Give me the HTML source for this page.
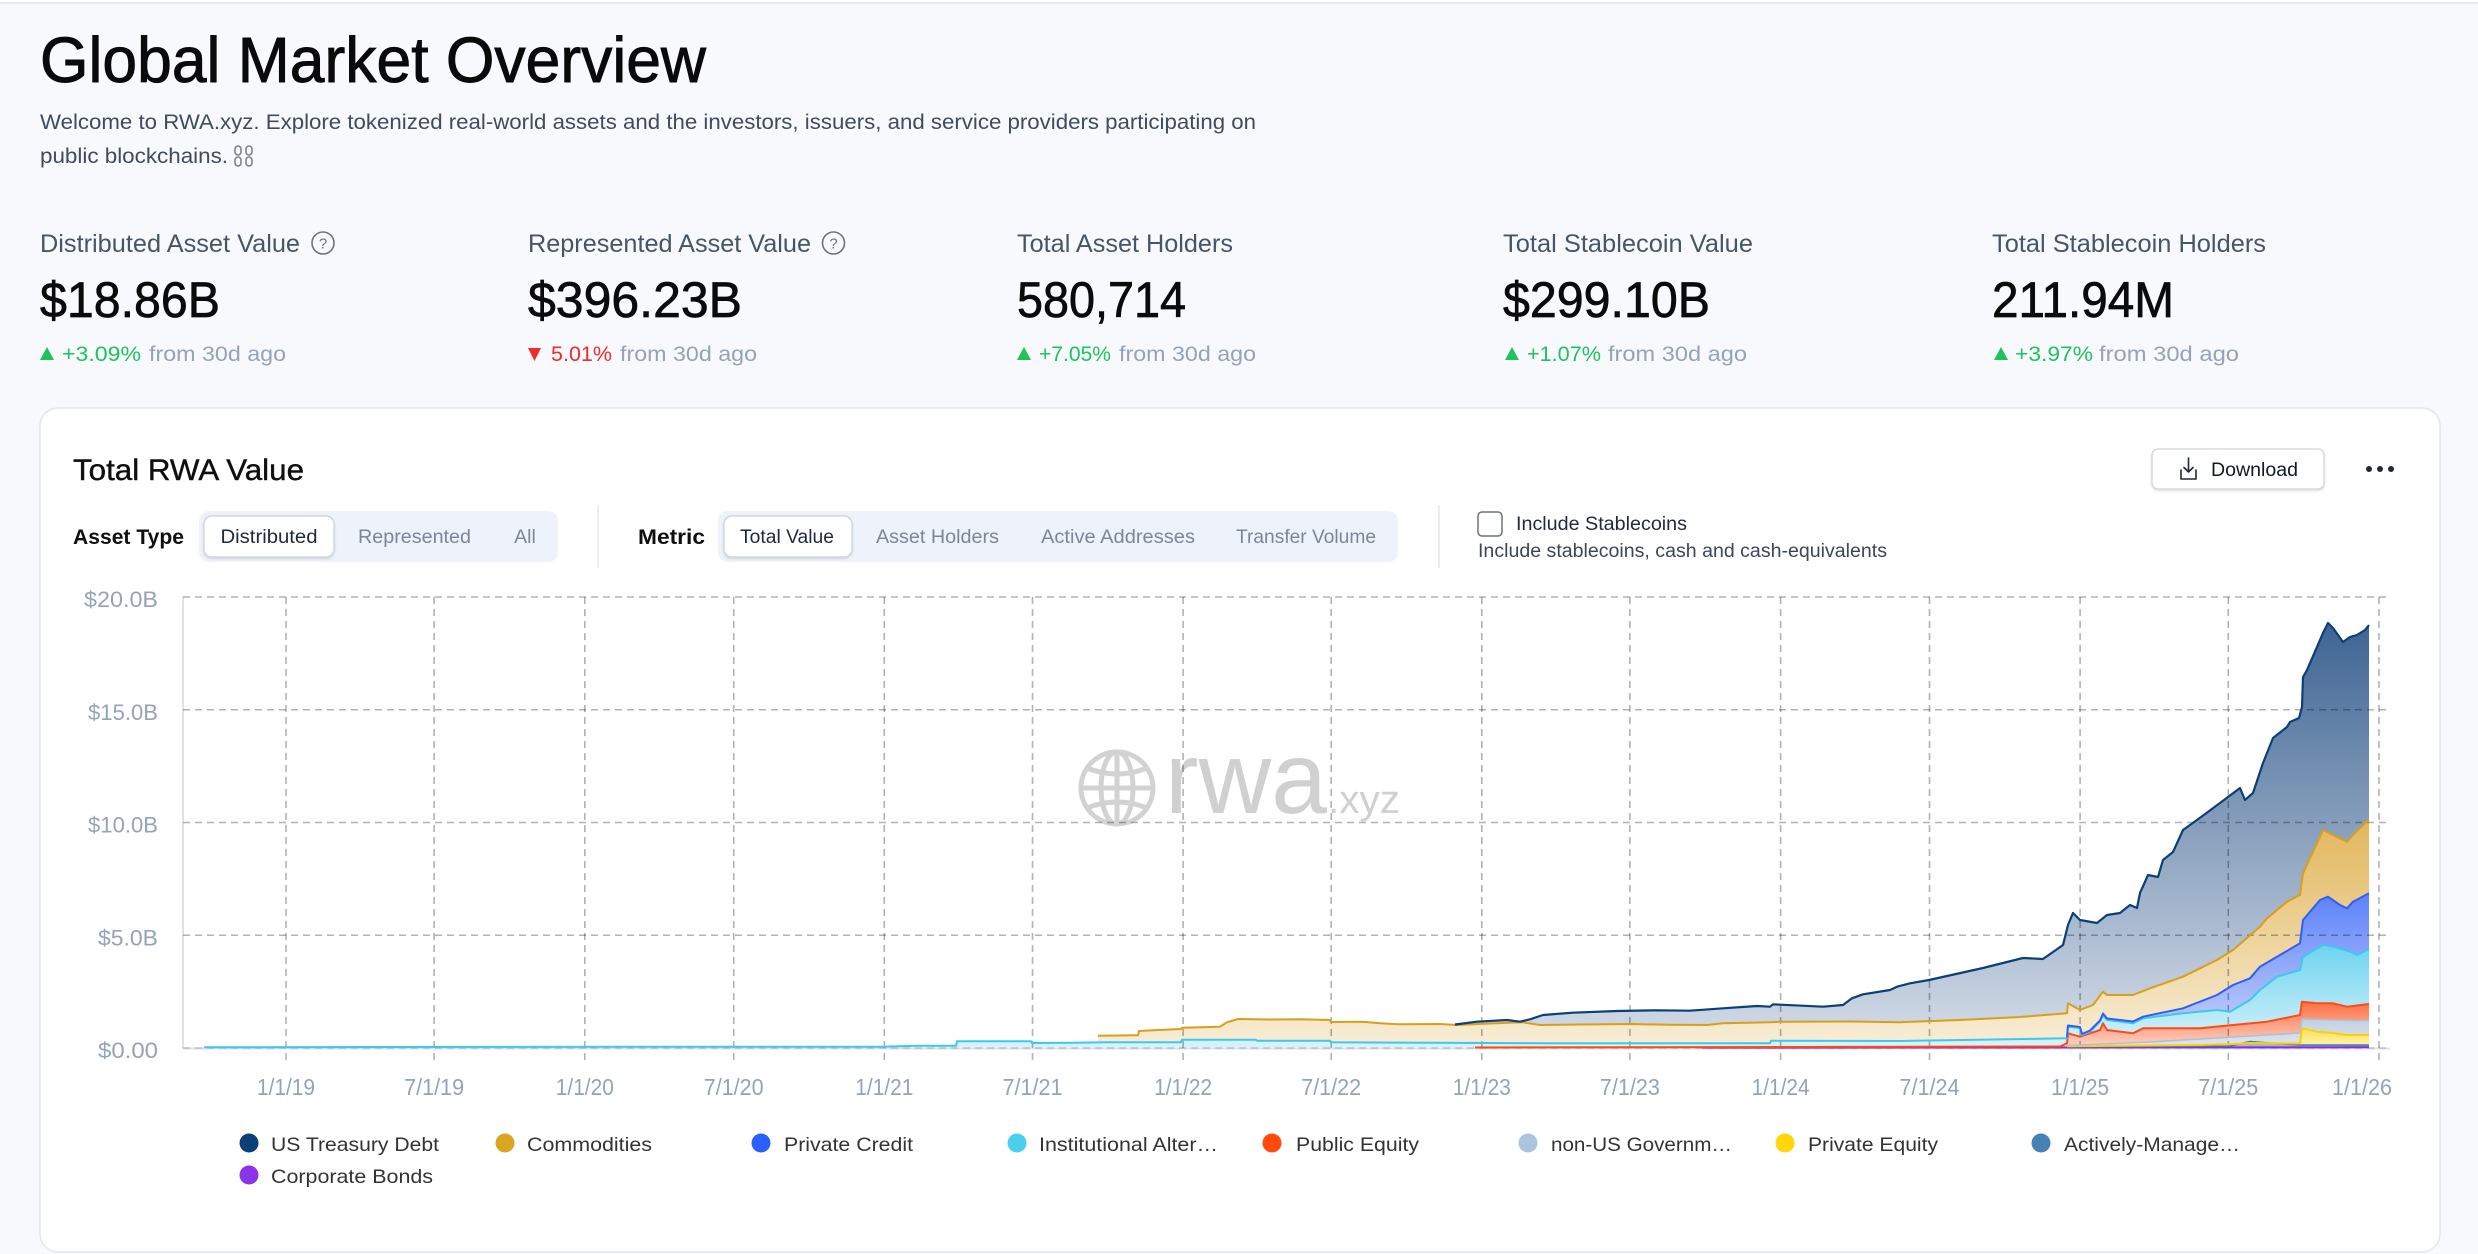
<!DOCTYPE html>
<html>
<head>
<meta charset="utf-8">
<style>
html,body{margin:0;padding:0;}
body{width:2478px;height:1254px;overflow:hidden;background:#f8f9fc;font-family:"Liberation Sans",Arial,sans-serif;}
svg{display:block;}
text{font-family:"Liberation Sans",Arial,sans-serif;}
</style>
</head>
<body>
<svg width="2478" height="1254" viewBox="0 0 2478 1254" xmlns="http://www.w3.org/2000/svg">
<defs>
<linearGradient id="gU" gradientUnits="userSpaceOnUse" x1="0" y1="620" x2="0" y2="1048"><stop offset="0" stop-color="#3d6392"/><stop offset="1" stop-color="#d6dee9"/></linearGradient>
<linearGradient id="gG" gradientUnits="userSpaceOnUse" x1="0" y1="815" x2="0" y2="1048"><stop offset="0" stop-color="#e2b559"/><stop offset="1" stop-color="#f8eed8"/></linearGradient>
<linearGradient id="gB" gradientUnits="userSpaceOnUse" x1="0" y1="890" x2="0" y2="1048"><stop offset="0" stop-color="#5a80fa"/><stop offset="1" stop-color="#cdd7fb"/></linearGradient>
<linearGradient id="gC" gradientUnits="userSpaceOnUse" x1="0" y1="945" x2="0" y2="1048"><stop offset="0" stop-color="#6dd4ef"/><stop offset="1" stop-color="#dbf3fa"/></linearGradient>
<linearGradient id="gR" gradientUnits="userSpaceOnUse" x1="0" y1="1000" x2="0" y2="1048"><stop offset="0" stop-color="#ff6b3f"/><stop offset="1" stop-color="#fdd5c8"/></linearGradient>
<linearGradient id="gN" gradientUnits="userSpaceOnUse" x1="0" y1="1018" x2="0" y2="1048"><stop offset="0" stop-color="#c3cfdf"/><stop offset="1" stop-color="#e0e6ef"/></linearGradient>
<linearGradient id="gY" gradientUnits="userSpaceOnUse" x1="0" y1="1026" x2="0" y2="1048"><stop offset="0" stop-color="#ffe04a"/><stop offset="1" stop-color="#fff3b8"/></linearGradient>
<filter id="sh" x="-10%" y="-20%" width="120%" height="150%"><feDropShadow dx="0" dy="1.5" stdDeviation="1.2" flood-color="#000" flood-opacity="0.12"/></filter>
</defs>

<!-- top strip -->
<rect x="0" y="0" width="2478" height="3" fill="#ffffff"/>
<line x1="0" y1="3" x2="2478" y2="3" stroke="#e4e7ec" stroke-width="1.5"/>

<!-- Header -->
<text x="40" y="82" font-size="64" fill="#0a0a0a" stroke="#0a0a0a" stroke-width="0.9" textLength="666" lengthAdjust="spacingAndGlyphs">Global Market Overview</text>
<text x="40" y="129" font-size="21" fill="#3f4b5f" textLength="1216" lengthAdjust="spacingAndGlyphs">Welcome to RWA.xyz. Explore tokenized real-world assets and the investors, issuers, and service providers participating on</text>
<text x="40" y="163" font-size="21" fill="#3f4b5f" textLength="188" lengthAdjust="spacingAndGlyphs">public blockchains.</text>
<g stroke="#7a8394" stroke-width="1.6" fill="none">
<rect x="235" y="146" width="6" height="9" rx="3"/><rect x="235" y="157" width="6" height="9" rx="3"/>
<rect x="246" y="146" width="6" height="9" rx="3"/><rect x="246" y="157" width="6" height="9" rx="3"/>
</g>

<!-- Stats -->
<g font-size="25" fill="#475569">
<text x="40" y="252" textLength="260" lengthAdjust="spacingAndGlyphs">Distributed Asset Value</text>
<text x="528" y="252" textLength="283" lengthAdjust="spacingAndGlyphs">Represented Asset Value</text>
<text x="1017" y="252" textLength="216" lengthAdjust="spacingAndGlyphs">Total Asset Holders</text>
<text x="1503" y="252" textLength="250" lengthAdjust="spacingAndGlyphs">Total Stablecoin Value</text>
<text x="1992" y="252" textLength="274" lengthAdjust="spacingAndGlyphs">Total Stablecoin Holders</text>
</g>
<g stroke="#6b7280" stroke-width="1.6" fill="none">
<circle cx="323" cy="243" r="11"/><circle cx="833.5" cy="243" r="11"/>
</g>
<g font-size="15" fill="#6b7280" text-anchor="middle">
<text x="323" y="248.5">?</text><text x="833.5" y="248.5">?</text>
</g>
<g font-size="50" fill="#0b0b0b" stroke="#0b0b0b" stroke-width="0.7">
<text x="40" y="317" textLength="180" lengthAdjust="spacingAndGlyphs">$18.86B</text>
<text x="528" y="317" textLength="214" lengthAdjust="spacingAndGlyphs">$396.23B</text>
<text x="1017" y="317" textLength="169" lengthAdjust="spacingAndGlyphs">580,714</text>
<text x="1503" y="317" textLength="207" lengthAdjust="spacingAndGlyphs">$299.10B</text>
<text x="1992" y="317" textLength="182" lengthAdjust="spacingAndGlyphs">211.94M</text>
</g>
<g font-size="21">
<polygon points="40,360 47,347 54,360" fill="#1fc25b"/>
<text x="62" y="361" fill="#1fc25b" textLength="79" lengthAdjust="spacingAndGlyphs">+3.09%</text>
<text x="149" y="361" fill="#94a3b8" textLength="137" lengthAdjust="spacingAndGlyphs">from 30d ago</text>
<polygon points="528,348 541,348 534.5,361" fill="#ef2b2b"/>
<text x="551" y="361" fill="#ef2b2b" textLength="61" lengthAdjust="spacingAndGlyphs">5.01%</text>
<text x="620" y="361" fill="#94a3b8" textLength="137" lengthAdjust="spacingAndGlyphs">from 30d ago</text>
<polygon points="1017,360 1024,347 1031,360" fill="#1fc25b"/>
<text x="1039" y="361" fill="#1fc25b" textLength="72" lengthAdjust="spacingAndGlyphs">+7.05%</text>
<text x="1119" y="361" fill="#94a3b8" textLength="137" lengthAdjust="spacingAndGlyphs">from 30d ago</text>
<polygon points="1505,360 1512,347 1519,360" fill="#1fc25b"/>
<text x="1527" y="361" fill="#1fc25b" textLength="74" lengthAdjust="spacingAndGlyphs">+1.07%</text>
<text x="1608" y="361" fill="#94a3b8" textLength="139" lengthAdjust="spacingAndGlyphs">from 30d ago</text>
<polygon points="1994,360 2001,347 2008,360" fill="#1fc25b"/>
<text x="2015" y="361" fill="#1fc25b" textLength="78" lengthAdjust="spacingAndGlyphs">+3.97%</text>
<text x="2099" y="361" fill="#94a3b8" textLength="140" lengthAdjust="spacingAndGlyphs">from 30d ago</text>
</g>

<!-- Card -->
<rect x="40" y="408" width="2400" height="844" rx="18" fill="#ffffff" stroke="#e3e6ec" stroke-width="1.5"/>
<text x="73" y="480" font-size="30" fill="#0f0f0f" stroke="#0f0f0f" stroke-width="0.4" textLength="231" lengthAdjust="spacingAndGlyphs">Total RWA Value</text>

<!-- Download -->
<rect x="2152" y="449" width="172" height="40" rx="6" fill="#fff" stroke="#cfd4dc" stroke-width="1.3" filter="url(#sh)"/>
<g stroke="#1f2937" stroke-width="1.6" fill="none" stroke-linecap="round" stroke-linejoin="round">
<path d="M2188.5 458 V472 M2184 467.5 L2188.5 472 L2193 467.5"/>
<path d="M2181 470 V479 H2196 V470"/>
</g>
<text x="2211" y="476" font-size="19" fill="#111827" textLength="87" lengthAdjust="spacingAndGlyphs">Download</text>
<g fill="#1f2937"><circle cx="2369" cy="469" r="3"/><circle cx="2380" cy="469" r="3"/><circle cx="2391" cy="469" r="3"/></g>

<!-- Controls -->
<text x="73" y="544" font-size="21" font-weight="bold" fill="#0f0f0f" textLength="111" lengthAdjust="spacingAndGlyphs">Asset Type</text>
<rect x="199" y="511" width="359" height="51" rx="10" fill="#eef2fa"/>
<rect x="204" y="516" width="130" height="41" rx="8" fill="#fff" stroke="#c9d0dc" stroke-width="1.2" filter="url(#sh)"/>
<g font-size="19.5" text-anchor="middle">
<text x="269" y="543" fill="#1e293b" textLength="97" lengthAdjust="spacingAndGlyphs">Distributed</text>
<text x="414.5" y="543" fill="#7c8699" textLength="113" lengthAdjust="spacingAndGlyphs">Represented</text>
<text x="525" y="543" fill="#7c8699">All</text>
</g>
<line x1="598" y1="505" x2="598" y2="568" stroke="#e5e7eb" stroke-width="1.5"/>
<text x="638" y="544" font-size="21" font-weight="bold" fill="#0f0f0f" textLength="67" lengthAdjust="spacingAndGlyphs">Metric</text>
<rect x="718" y="511" width="680" height="51" rx="10" fill="#eef2fa"/>
<rect x="724" y="516" width="128" height="41" rx="8" fill="#fff" stroke="#c9d0dc" stroke-width="1.2" filter="url(#sh)"/>
<g font-size="19.5" text-anchor="middle">
<text x="787" y="543" fill="#1e293b" textLength="94" lengthAdjust="spacingAndGlyphs">Total Value</text>
<text x="937.5" y="543" fill="#7c8699" textLength="123" lengthAdjust="spacingAndGlyphs">Asset Holders</text>
<text x="1118" y="543" fill="#7c8699" textLength="154" lengthAdjust="spacingAndGlyphs">Active Addresses</text>
<text x="1306" y="543" fill="#7c8699" textLength="140" lengthAdjust="spacingAndGlyphs">Transfer Volume</text>
</g>
<line x1="1439" y1="505" x2="1439" y2="568" stroke="#e5e7eb" stroke-width="1.5"/>
<rect x="1478" y="512" width="24" height="24" rx="4" fill="#fff" stroke="#6b7280" stroke-width="1.5"/>
<text x="1516" y="530" font-size="19" fill="#1f2937" textLength="171" lengthAdjust="spacingAndGlyphs">Include Stablecoins</text>
<text x="1478" y="557" font-size="19" fill="#3b4658" textLength="409" lengthAdjust="spacingAndGlyphs">Include stablecoins, cash and cash-equivalents</text>

<!-- Watermark -->
<g stroke="#d2d2d2" stroke-width="5" fill="none">
<circle cx="1117" cy="788" r="36"/>
<ellipse cx="1117" cy="788" rx="16" ry="36"/>
<line x1="1117" y1="752" x2="1117" y2="824"/>
<line x1="1081" y1="788" x2="1153" y2="788"/>
<path d="M1087 768 Q1117 780 1147 768"/>
<path d="M1087 808 Q1117 796 1147 808"/>
</g>
<text x="1165" y="813" font-size="102" fill="#d0d0d0" textLength="162" lengthAdjust="spacingAndGlyphs">rwa</text>
<text x="1328" y="813" font-size="40" fill="#d0d0d0" textLength="72" lengthAdjust="spacingAndGlyphs">.xyz</text>

<!-- Axis base lines -->
<line x1="183" y1="597" x2="183" y2="1048" stroke="#dde2ec" stroke-width="2"/>
<line x1="183" y1="1048.5" x2="2390" y2="1048.5" stroke="#dde2ec" stroke-width="2"/>

<!-- Areas (top series first) -->
<polygon fill="url(#gU)" points="1455,1024.5 1477,1021.7 1507,1020 1520,1021.7 1530,1019.3 1543,1015 1573,1012.7 1617,1011 1657,1010.3 1690,1010.7 1723,1008.3 1757,1006 1770,1006.7 1773,1004.3 1823,1006.7 1843,1005 1852,998.3 1863,994.3 1890,990 1897,986.7 1910,983.3 1929,980 1983,968 2023,958 2043,959 2063,945 2068,925 2073,913 2080,920 2097,923 2107,915 2120,913 2130,905 2137,908 2140,893 2148,875 2158,877 2163,860 2173,852 2183,830 2197,820 2220,803 2240,788 2245,800 2253,793 2263,763 2273,738 2287,727 2290,722 2299,718 2302,707 2303,677 2307,670 2317,647 2323,633 2328,623 2333,628 2343,642 2350,637 2357,635 2365,630 2369,625 2369,1048 1455,1048"/>
<polygon fill="url(#gG)" points="1098,1035.7 1138,1035.3 1139,1031 1181,1029 1182,1027.7 1220,1026.7 1227,1022.3 1238,1019 1270,1019.5 1300,1019.3 1330,1020 1331,1022 1363,1021.7 1380,1023.3 1400,1024.3 1440,1024 1457,1025 1490,1023.5 1523,1022.3 1540,1025 1580,1024.5 1630,1024 1670,1024.8 1707,1025 1723,1023.3 1770,1022.3 1781,1021.7 1850,1021.5 1900,1022.2 1960,1020 2020,1017 2067,1013.3 2068,1003.3 2080,1010 2093,1005 2103,991.7 2107,995 2133,995 2150,988.3 2183,976.7 2217,960 2233,950 2260,926.7 2267,918.3 2287,901.7 2300,895 2303,873.3 2317,843.3 2323,830 2333,835 2347,841.7 2353,835 2369,819.3 2369,1048 1098,1048"/>
<polygon fill="url(#gB)" points="2067,1037.5 2068,1025.5 2080,1027 2082,1034 2090,1030.5 2100,1020.5 2103,1013.5 2107,1018.5 2133,1021.5 2143,1016.7 2183,1008.3 2217,995 2233,985 2250,978.3 2260,966.7 2280,955 2300,943.3 2303,920 2320,900 2328,896.7 2340,905 2347,908.3 2353,901.7 2369,893.3 2369,1048 2067,1048"/>
<polygon fill="url(#gC)" points="204,1047.3 400,1047 650,1046.8 884,1046.7 918,1045.7 956,1045.7 957,1041.3 1031,1041.3 1032,1043 1073,1042.7 1106,1042.3 1181,1042.3 1182,1039.7 1256,1039.7 1257,1040.7 1330,1040.7 1331,1042.3 1553,1043.3 1770,1043.3 1771,1040.7 1900,1041 2067,1038.3 2068,1026.7 2080,1028 2082,1035 2090,1031.7 2100,1021.7 2103,1015 2107,1020 2133,1023.3 2143,1018.3 2183,1013.3 2217,1010 2230,1011.7 2250,1000 2260,990 2277,976.7 2300,970 2303,956.7 2323,945 2333,946.7 2350,951.7 2357,955 2369,949.3 2369,1048 204,1048"/>
<polygon fill="url(#gR)" points="1475,1047.5 2060,1046.5 2067,1043.3 2068,1033.3 2080,1036.7 2100,1030 2103,1023.3 2107,1030 2133,1033.3 2143,1028.3 2200,1028.3 2233,1025 2267,1021.7 2300,1015 2302,1001.7 2317,1003.3 2333,1003.3 2347,1006.7 2369,1004 2369,1048 1475,1048"/>
<polygon fill="url(#gN)" points="2067,1045.5 2150,1042 2233,1037 2267,1035 2300,1033 2302,1019 2333,1020 2369,1020.7 2369,1048 2067,1048"/>
<polygon fill="url(#gY)" points="2067,1046.3 2200,1045 2233,1044 2250,1043 2300,1043.5 2302,1028.3 2317,1031.7 2333,1033 2347,1035 2369,1035 2369,1048 2067,1048"/>
<polygon fill="#9db8d3" points="2067,1046.8 2230,1046 2250,1041.5 2270,1043 2300,1045 2369,1045 2369,1048 2067,1048"/>

<!-- Gridlines -->
<g stroke="rgba(0,0,0,0.3)" stroke-width="1.6" stroke-dasharray="7 5" fill="none">
<line x1="183" y1="597" x2="2390" y2="597"/>
<line x1="183" y1="709.75" x2="2390" y2="709.75"/>
<line x1="183" y1="822.5" x2="2390" y2="822.5"/>
<line x1="183" y1="935.25" x2="2390" y2="935.25"/>
<line x1="183" y1="1048" x2="2390" y2="1048" stroke="rgba(0,0,0,0.18)"/>
<line x1="286" y1="597" x2="286" y2="1062"/>
<line x1="434.1" y1="597" x2="434.1" y2="1062"/>
<line x1="584.8" y1="597" x2="584.8" y2="1062"/>
<line x1="733.7" y1="597" x2="733.7" y2="1062"/>
<line x1="884.3" y1="597" x2="884.3" y2="1062"/>
<line x1="1032.5" y1="597" x2="1032.5" y2="1062"/>
<line x1="1183.1" y1="597" x2="1183.1" y2="1062"/>
<line x1="1331.2" y1="597" x2="1331.2" y2="1062"/>
<line x1="1481.8" y1="597" x2="1481.8" y2="1062"/>
<line x1="1629.9" y1="597" x2="1629.9" y2="1062"/>
<line x1="1780.6" y1="597" x2="1780.6" y2="1062"/>
<line x1="1929.5" y1="597" x2="1929.5" y2="1062"/>
<line x1="2080.1" y1="597" x2="2080.1" y2="1062"/>
<line x1="2228.3" y1="597" x2="2228.3" y2="1062"/>
<line x1="2379" y1="597" x2="2379" y2="1062"/>
</g>

<!-- Series lines (bottom first) -->
<g fill="none" stroke-linejoin="round">
<polyline stroke="#8a2be2" stroke-width="2" points="1702,1047.6 2369,1047.3"/>
<polyline stroke="#3f7ab0" stroke-width="1.6" points="2067,1046.8 2230,1046 2250,1041.5 2270,1043 2300,1045 2369,1045"/>
<polyline stroke="#ffd000" stroke-width="2" points="2067,1046.3 2200,1045 2233,1044 2250,1043 2300,1043.5 2302,1028.3 2317,1031.7 2333,1033 2347,1035 2369,1035"/>
<polyline stroke="#aec0d8" stroke-width="1.6" points="2067,1045.5 2150,1042 2233,1037 2267,1035 2300,1033 2302,1019 2333,1020 2369,1020.7"/>
<polyline stroke="#ff4a10" stroke-width="2" points="1475,1047.5 2060,1046.5 2067,1043.3 2068,1033.3 2080,1036.7 2100,1030 2103,1023.3 2107,1030 2133,1033.3 2143,1028.3 2200,1028.3 2233,1025 2267,1021.7 2300,1015 2302,1001.7 2317,1003.3 2333,1003.3 2347,1006.7 2369,1004"/>
<polyline stroke="#3ec8ec" stroke-width="2" points="204,1047.3 400,1047 650,1046.8 884,1046.7 918,1045.7 956,1045.7 957,1041.3 1031,1041.3 1032,1043 1073,1042.7 1106,1042.3 1181,1042.3 1182,1039.7 1256,1039.7 1257,1040.7 1330,1040.7 1331,1042.3 1553,1043.3 1770,1043.3 1771,1040.7 1900,1041 2067,1038.3 2068,1026.7 2080,1028 2082,1035 2090,1031.7 2100,1021.7 2103,1015 2107,1020 2133,1023.3 2143,1018.3 2183,1013.3 2217,1010 2230,1011.7 2250,1000 2260,990 2277,976.7 2300,970 2303,956.7 2323,945 2333,946.7 2350,951.7 2357,955 2369,949.3"/>
<polyline stroke="#2f5ff5" stroke-width="2" points="2067,1037.5 2068,1025.5 2080,1027 2082,1034 2090,1030.5 2100,1020.5 2103,1013.5 2107,1018.5 2133,1021.5 2143,1016.7 2183,1008.3 2217,995 2233,985 2250,978.3 2260,966.7 2280,955 2300,943.3 2303,920 2320,900 2328,896.7 2340,905 2347,908.3 2353,901.7 2369,893.3"/>
<polyline stroke="#d89f1c" stroke-width="2" points="1098,1035.7 1138,1035.3 1139,1031 1181,1029 1182,1027.7 1220,1026.7 1227,1022.3 1238,1019 1270,1019.5 1300,1019.3 1330,1020 1331,1022 1363,1021.7 1380,1023.3 1400,1024.3 1440,1024 1457,1025 1490,1023.5 1523,1022.3 1540,1025 1580,1024.5 1630,1024 1670,1024.8 1707,1025 1723,1023.3 1770,1022.3 1781,1021.7 1850,1021.5 1900,1022.2 1960,1020 2020,1017 2067,1013.3 2068,1003.3 2080,1010 2093,1005 2103,991.7 2107,995 2133,995 2150,988.3 2183,976.7 2217,960 2233,950 2260,926.7 2267,918.3 2287,901.7 2300,895 2303,873.3 2317,843.3 2323,830 2333,835 2347,841.7 2353,835 2369,819.3"/>
<polyline stroke="#0b3f78" stroke-width="2.2" points="1455,1024.5 1477,1021.7 1507,1020 1520,1021.7 1530,1019.3 1543,1015 1573,1012.7 1617,1011 1657,1010.3 1690,1010.7 1723,1008.3 1757,1006 1770,1006.7 1773,1004.3 1823,1006.7 1843,1005 1852,998.3 1863,994.3 1890,990 1897,986.7 1910,983.3 1929,980 1983,968 2023,958 2043,959 2063,945 2068,925 2073,913 2080,920 2097,923 2107,915 2120,913 2130,905 2137,908 2140,893 2148,875 2158,877 2163,860 2173,852 2183,830 2197,820 2220,803 2240,788 2245,800 2253,793 2263,763 2273,738 2287,727 2290,722 2299,718 2302,707 2303,677 2307,670 2317,647 2323,633 2328,623 2333,628 2343,642 2350,637 2357,635 2365,630 2369,625"/>
</g>

<!-- Y labels -->
<g font-size="22" fill="#94a3b8" text-anchor="end">
<text x="158" y="607" textLength="74" lengthAdjust="spacingAndGlyphs">$20.0B</text>
<text x="158" y="719.75" textLength="70" lengthAdjust="spacingAndGlyphs">$15.0B</text>
<text x="158" y="832.5" textLength="70" lengthAdjust="spacingAndGlyphs">$10.0B</text>
<text x="158" y="945.25" textLength="60" lengthAdjust="spacingAndGlyphs">$5.0B</text>
<text x="158" y="1058" textLength="60" lengthAdjust="spacingAndGlyphs">$0.00</text>
</g>

<!-- X labels -->
<g font-size="23" fill="#94a3b8" text-anchor="middle">
<text x="286" y="1095" textLength="58" lengthAdjust="spacingAndGlyphs">1/1/19</text>
<text x="434.1" y="1095" textLength="60" lengthAdjust="spacingAndGlyphs">7/1/19</text>
<text x="584.8" y="1095" textLength="58" lengthAdjust="spacingAndGlyphs">1/1/20</text>
<text x="733.7" y="1095" textLength="60" lengthAdjust="spacingAndGlyphs">7/1/20</text>
<text x="884.3" y="1095" textLength="58" lengthAdjust="spacingAndGlyphs">1/1/21</text>
<text x="1032.5" y="1095" textLength="60" lengthAdjust="spacingAndGlyphs">7/1/21</text>
<text x="1183.1" y="1095" textLength="58" lengthAdjust="spacingAndGlyphs">1/1/22</text>
<text x="1331.2" y="1095" textLength="60" lengthAdjust="spacingAndGlyphs">7/1/22</text>
<text x="1481.8" y="1095" textLength="58" lengthAdjust="spacingAndGlyphs">1/1/23</text>
<text x="1629.9" y="1095" textLength="60" lengthAdjust="spacingAndGlyphs">7/1/23</text>
<text x="1780.6" y="1095" textLength="58" lengthAdjust="spacingAndGlyphs">1/1/24</text>
<text x="1929.5" y="1095" textLength="60" lengthAdjust="spacingAndGlyphs">7/1/24</text>
<text x="2080.1" y="1095" textLength="58" lengthAdjust="spacingAndGlyphs">1/1/25</text>
<text x="2228.3" y="1095" textLength="60" lengthAdjust="spacingAndGlyphs">7/1/25</text>
<text x="2362" y="1095" textLength="60" lengthAdjust="spacingAndGlyphs">1/1/26</text>
</g>

<!-- Legend -->
<g>
<circle cx="249" cy="1143" r="9.5" fill="#0a3f78"/>
<circle cx="505" cy="1143" r="9.5" fill="#dba524"/>
<circle cx="761" cy="1143" r="9.5" fill="#2b5fff"/>
<circle cx="1017" cy="1143" r="9.5" fill="#4ccfef"/>
<circle cx="1272" cy="1143" r="9.5" fill="#ff4a0b"/>
<circle cx="1528" cy="1143" r="9.5" fill="#adc4de"/>
<circle cx="1785" cy="1143" r="9.5" fill="#ffd60a"/>
<circle cx="2041" cy="1143" r="9.5" fill="#4682b4"/>
<circle cx="249" cy="1175" r="9.5" fill="#8b33e6"/>
</g>
<g font-size="19.5" fill="#333333">
<text x="271" y="1151" textLength="168" lengthAdjust="spacingAndGlyphs">US Treasury Debt</text>
<text x="527" y="1151" textLength="125" lengthAdjust="spacingAndGlyphs">Commodities</text>
<text x="784" y="1151" textLength="129" lengthAdjust="spacingAndGlyphs">Private Credit</text>
<text x="1039" y="1151" textLength="179" lengthAdjust="spacingAndGlyphs">Institutional Alter…</text>
<text x="1296" y="1151" textLength="123" lengthAdjust="spacingAndGlyphs">Public Equity</text>
<text x="1551" y="1151" textLength="181" lengthAdjust="spacingAndGlyphs">non-US Governm…</text>
<text x="1808" y="1151" textLength="130" lengthAdjust="spacingAndGlyphs">Private Equity</text>
<text x="2064" y="1151" textLength="176" lengthAdjust="spacingAndGlyphs">Actively-Manage…</text>
<text x="271" y="1183" textLength="162" lengthAdjust="spacingAndGlyphs">Corporate Bonds</text>
</g>
</svg>
</body>
</html>
